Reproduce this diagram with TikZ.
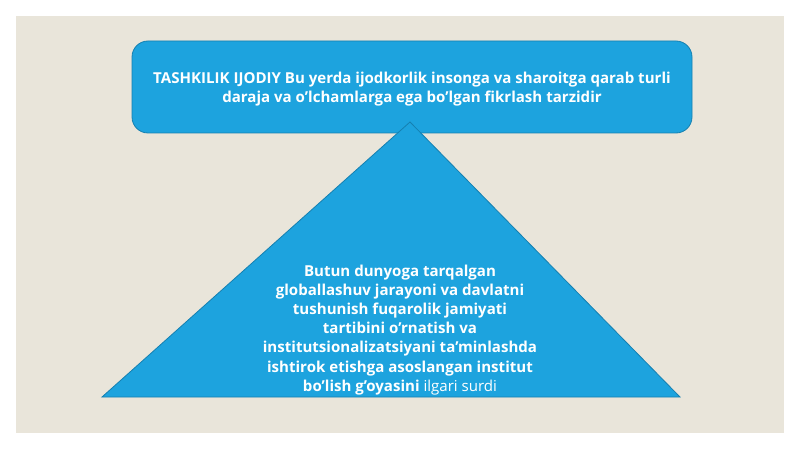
\documentclass[tikz,border=0pt]{standalone}
\usepackage{fontspec}
\setmainfont{Open Sans}
\definecolor{bgbeige}{HTML}{E9E5DA}
\definecolor{boxblue}{HTML}{1DA3DE}
\definecolor{edgeblue}{HTML}{1580B0}
\tikzset{
  bluebox/.style={fill=boxblue, draw=edgeblue, line width=0.6pt},
  wtext/.style={text=white, align=center, font=\fontsize{11.3}{14.3}\selectfont\bfseries, inner sep=0pt}
}
\begin{document}
\begin{tikzpicture}[x=0.75pt,y=-0.75pt]
\useasboundingbox (0,0) rectangle (800,449);
\fill[white] (0,0) rectangle (800,449);
\fill[bgbeige] (16,16) rectangle (784,433);
\draw[bluebox, rounded corners=12pt] (132,41) rectangle (692,133);
\coordinate (apex) at (410,122);
\coordinate (bl) at (102,397);
\coordinate (br) at (680,397);
\draw[bluebox] (apex) -- (br) -- (bl) -- cycle;
\node[wtext] (top) at (412,89.5) {TASHKILIK IJODIY Bu yerda ijodkorlik insonga va sharoitga qarab turli\\daraja va o'lchamlarga ega bo'lgan fikrlash tarzidir};
\node[wtext] (tri) at (400,330) {Butun dunyoga tarqalgan\\globallashuv jarayoni va davlatni\\tushunish fuqarolik jamiyati\\tartibini o'rnatish va\\institutsionalizatsiyani ta'minlashda\\ishtirok etishga asoslangan institut\\bo'lish g'oyasini \mdseries ilgari surdi};
\end{tikzpicture}
\end{document}
